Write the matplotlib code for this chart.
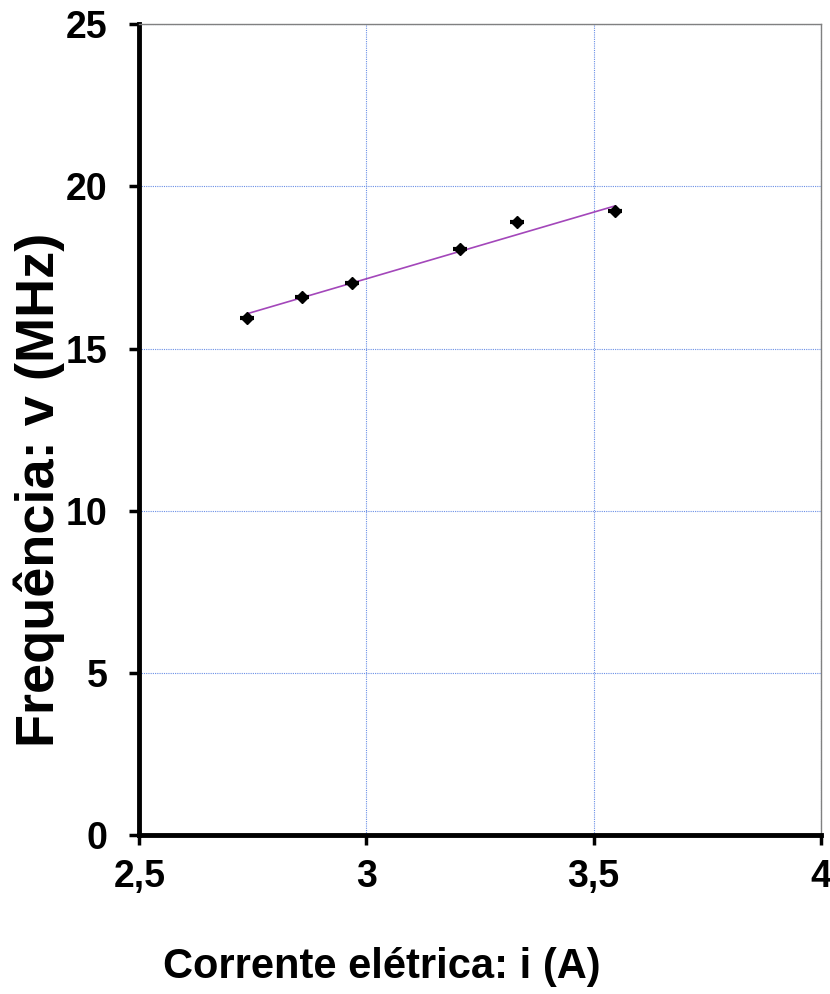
import numpy as np
import matplotlib.pyplot as plt

# corrente (A) e frequência (MHz)
corrente = [2.737, 2.858, 2.968, 3.206, 3.331, 3.547]
frequencia = [15.93, 16.58, 17.01, 18.06, 18.90, 19.25]

# linha de tendência
trend_x = [2.737, 3.547]
trend_slope = 4.10
trend_intercept = 4.85

xticks = [2.5, 3, 3.5, 4]
xticklabels = ['2,5', '3', '3,5', '4']
yticks = [0, 5, 10, 15, 20, 25]

plt.rcParams['font.family'] = ['Liberation Sans', 'DejaVu Sans']
plt.rcParams['font.weight'] = 'bold'

fig = plt.figure(figsize=(8.3, 9.94), dpi=100)
ax = fig.add_axes([0.168, 0.1595, 0.8206, 0.8164])

ax.set_xlim(2.5, 4)
ax.set_ylim(0, 25)
ax.set_xticks(xticks)
ax.set_xticklabels(xticklabels)
ax.set_yticks(yticks)

ax.grid(True, color='#6a8fe6', linestyle=(0, (1, 1)), linewidth=0.8)
ax.set_axisbelow(True)

tx = np.array(trend_x)
ax.plot(tx, trend_slope * tx + trend_intercept, color='#a347ba', linewidth=1.2, zorder=3)
ax.plot(corrente, frequencia, linestyle='none', marker='D', markersize=6.5,
        color='black', zorder=4)
ax.plot(corrente, frequencia, linestyle='none', marker='_', markersize=10,
        markeredgewidth=3, color='black', zorder=4)

for side in ['left', 'bottom']:
    ax.spines[side].set_linewidth(3.5)
    ax.spines[side].set_color('black')
for side in ['top', 'right']:
    ax.spines[side].set_linewidth(1)
    ax.spines[side].set_color('#808080')

ax.tick_params(direction='out', length=7, width=2.5, labelsize=27)
ax.tick_params(axis='y', pad=16)
ax.tick_params(axis='x', pad=10)
for lab in ax.get_xticklabels() + ax.get_yticklabels():
    lab.set_fontweight('bold')

ax.set_xlabel('Corrente elétrica: i (A)', fontsize=30, fontweight='bold')
ax.set_ylabel('Frequência: v (MHz)', fontsize=39, fontweight='bold')
ax.xaxis.set_label_coords(0.356, -0.137)
ax.yaxis.set_label_coords(-0.109, 0.426)

fig.savefig('out.png', dpi=100)
plt.close()
